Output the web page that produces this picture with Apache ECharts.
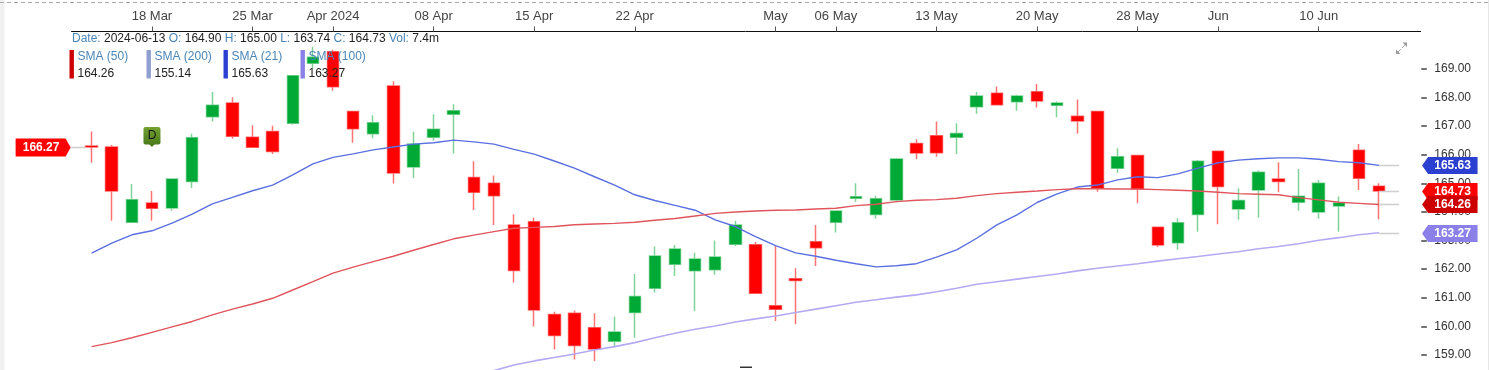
<!DOCTYPE html>
<html><head><meta charset="utf-8">
<style>html,body{margin:0;padding:0;background:#fff;overflow:hidden}#c{width:1489px;height:370px}</style>
<script src="https://cdn.jsdelivr.net/npm/echarts@6/dist/echarts.min.js"></script></head>
<body><div id="c"></div>
<script>
const dates = ['03-13','03-14','03-15','03-18','03-19','03-20','03-21','03-22','03-25','03-26','03-27','03-28',
'04-01','04-02','04-03','04-04','04-05','04-08','04-09','04-10','04-11','04-12','04-15','04-16','04-17','04-18','04-19',
'04-22','04-23','04-24','04-25','04-26','04-29','04-30','05-01','05-02','05-03','05-06','05-07','05-08','05-09','05-10',
'05-13','05-14','05-15','05-16','05-17','05-20','05-21','05-22','05-23','05-24','05-28','05-29','05-30','05-31',
'06-03','06-04','06-05','06-06','06-07','06-10','06-11','06-12','06-13'];
const tickLabels = {'03-18':'18 Mar','03-25':'25 Mar','04-01':'Apr 2024','04-08':'08 Apr','04-15':'15 Apr','04-22':'22 Apr','05-01':'May','05-06':'06 May','05-13':'13 May','05-20':'20 May','05-28':'28 May','06-03':'Jun','06-10':'10 Jun'};
const priceTicks = [159,160,161,162,163,164,165,166,167,168,169];
const opens = [166.31,166.27,163.64,164.31,164.14,165.06,167.33,167.81,166.61,166.81,
167.10,169.20,169.60,167.51,166.73,168.40,165.57,166.61,167.42,165.20,
165.00,163.54,163.66,160.41,160.46,159.95,159.48,160.48,161.33,162.17,
161.94,161.98,162.87,162.85,160.72,161.66,162.96,163.64,164.48,163.91,
164.42,166.39,166.66,166.61,167.68,168.15,167.85,168.20,167.73,167.35,
167.51,165.53,165.97,163.46,162.92,163.91,166.12,164.10,164.77,165.15,
164.34,164.00,164.21,166.16,164.90];
const closes = [166.27,164.73,164.43,164.13,165.15,166.59,167.73,166.65,166.26,166.11,
168.76,169.41,168.38,166.91,167.12,165.36,166.38,166.89,167.54,164.69,
164.57,161.95,160.57,159.68,159.33,159.21,159.80,161.04,162.46,162.70,
162.35,162.42,163.54,161.16,160.60,161.60,162.75,164.03,164.53,164.46,
165.85,166.06,166.07,166.74,168.05,167.75,168.05,167.88,167.81,167.18,
164.84,165.93,164.80,162.84,163.62,165.77,164.89,164.40,165.39,165.06,
164.55,165.00,164.31,165.18,164.73];
const lows = [165.72,163.69,163.62,163.69,164.04,164.84,167.16,166.56,166.26,166.03,
167.05,169.03,168.24,166.42,166.58,164.99,165.19,166.49,166.04,164.07,
163.54,161.53,159.99,159.19,158.84,158.79,159.29,159.60,161.18,161.76,
160.53,161.80,162.81,161.13,160.19,160.07,162.11,163.28,164.36,163.76,
164.34,165.84,165.93,166.03,167.43,167.74,167.54,167.65,167.31,166.73,
164.71,165.37,164.30,162.77,162.68,163.31,163.57,163.73,163.80,164.69,
164.04,163.76,163.31,164.77,163.74];
const highs = [166.81,166.34,164.98,164.73,165.18,166.73,168.19,168.01,167.03,167.01,
168.78,169.78,169.67,167.52,167.38,168.57,166.80,167.42,167.77,165.77,
165.27,163.92,163.80,160.51,160.55,160.46,160.34,161.83,162.79,162.84,
162.57,163.00,163.69,162.95,162.81,162.03,163.54,164.04,165.00,164.57,
165.89,166.54,167.16,167.10,168.19,168.39,168.10,168.47,167.87,167.93,
167.52,166.23,165.99,163.48,163.78,165.82,166.13,164.83,165.45,165.74,
165.50,165.12,164.54,166.38,165.00];
const sma21 = [162.56,162.91,163.20,163.34,163.61,163.92,164.28,164.51,164.74,164.94,
165.30,165.68,165.91,166.03,166.17,166.27,166.37,166.42,166.51,166.45,
166.37,166.19,166.02,165.78,165.53,165.23,164.94,164.60,164.40,164.23,
164.06,163.72,163.49,163.14,162.82,162.57,162.45,162.31,162.19,162.08,
162.12,162.19,162.42,162.67,163.08,163.55,163.90,164.33,164.63,164.87,
164.94,165.12,165.23,165.20,165.33,165.53,165.72,165.81,165.86,165.89,
165.89,165.84,165.76,165.72,165.63];
const sma50 = [159.29,159.43,159.60,159.79,159.98,160.17,160.40,160.60,160.78,160.98,
161.27,161.56,161.86,162.07,162.26,162.45,162.66,162.86,163.06,163.19,
163.31,163.43,163.46,163.49,163.55,163.58,163.60,163.64,163.71,163.77,
163.86,163.95,164.00,164.03,164.06,164.07,164.10,164.13,164.22,164.27,
164.36,164.41,164.43,164.48,164.57,164.64,164.69,164.73,164.78,164.81,
164.81,164.80,164.80,164.78,164.76,164.73,164.69,164.64,164.62,164.60,
164.50,164.42,164.34,164.30,164.26];
const sma100 = [null,null,null,null,null,null,null,null,null,null,
null,null,null,null,null,null,null,null,null,null,
158.45,158.65,158.79,158.91,159.03,159.17,159.29,159.43,159.60,159.76,
159.90,160.01,160.15,160.26,160.36,160.48,160.60,160.72,160.84,160.93,
161.02,161.10,161.21,161.33,161.47,161.56,161.65,161.74,161.83,161.94,
162.03,162.11,162.19,162.28,162.36,162.44,162.53,162.61,162.71,162.79,
162.89,163.01,163.10,163.20,163.27];
const legendNames = ['SMA (50)','SMA (200)','SMA (21)','SMA (100)'];
const legendValues = ['164.26','155.14','165.63','163.27'];
const legendColors = ['#cc0000','#8fa0d0','#2b40d0','#8a80e8'];
const tagValues = [165.63,164.73,164.26,163.27];
const tagColors = ['#2b40d0','#ff0000','#cc0000','#8a80e8'];
const firstClose = 166.27;

const pad = a => [null, ...a, null, null];
const cats = ['', ...dates, ' ', '  '];
const font = 'Liberation Sans, Arial, sans-serif';
const chart = echarts.init(document.getElementById('c'), null, {renderer:'canvas'});

const legendG = [];
legendNames.forEach((n,i)=>{
  const x = 69.5 + i*77;
  legendG.push({type:'rect',z:100,shape:{x:x,y:50,width:4.4,height:28.5},style:{fill:legendColors[i]}});
  legendG.push({type:'text',z:101,x:x+8,y:51,style:{text:n,fill:'#4a86b8',font:'12px '+font}});
  legendG.push({type:'text',z:101,x:x+8,y:68,style:{text:legendValues[i],fill:'#222',font:'12px '+font}});
});
const hdr = '{b|Date:} {k|2024-06-13} {b|O:} {k|164.90} {b|H:} {k|165.00} {b|L:} {k|163.74} {b|C:} {k|164.73} {b|Vol:} {k|7.4m}';

chart.setOption({
  animation:false,
  backgroundColor:'#fff',
  grid:{left:71.5,top:31.5,width:1347.8,height:352,outerBoundsMode:'none',containLabel:false},
  xAxis:{type:'category',position:'top',boundaryGap:false,data:cats,
    axisLine:{lineStyle:{color:'#111',width:1}},
    axisTick:{length:5,inside:false,lineStyle:{color:'#555',width:1},interval:(i,v)=>!!tickLabels[v],alignWithLabel:true},
    axisLabel:{fontFamily:font,fontSize:13,color:'#444',margin:9,interval:(i,v)=>!!tickLabels[v],formatter:v=>tickLabels[v]||'',hideOverlap:false},
    splitLine:{show:false}},
  yAxis:{type:'value',position:'right',offset:2,min:158,max:170.31,scale:true,
    axisLine:{show:false},
    axisTick:{show:true,length:5.5,lineStyle:{color:'#444',width:1.5},customValues:priceTicks},
    axisLabel:{fontFamily:font,fontSize:12,color:'#333',margin:13,customValues:priceTicks,formatter:v=>v.toFixed(2)},
    splitLine:{show:false}},
  series:[
    {type:'candlestick',name:'Price',barWidth:12,z:3,
     data:pad(dates.map((d,i)=>[opens[i],closes[i],lows[i],highs[i]])).map(v=>v||'-'),
     itemStyle:{color:'#00a935',color0:'#ff0000',borderColor:'rgba(0,169,53,0.5)',borderColor0:'rgba(255,0,0,0.55)',borderWidth:1.5}},
    {type:'line',name:'SMA (21)',data:pad(sma21),showSymbol:false,symbol:'none',z:4,lineStyle:{color:'#5a70e0',width:1.4}},
    {type:'line',name:'SMA (50)',data:pad(sma50),showSymbol:false,symbol:'none',z:4,lineStyle:{color:'#e0555c',width:1.4}},
    {type:'line',name:'SMA (100)',data:pad(sma100),showSymbol:false,symbol:'none',z:4,lineStyle:{color:'#b4aaf4',width:1.6}},
    {type:'custom',name:'Tags',z:20,silent:true,clip:false,coordinateSystem:'cartesian2d',
     data:tagValues.map(v=>[65,v]),
     encode:{x:0,y:1},
     renderItem:(p,api)=>{
       const c=api.coord([api.value(0),api.value(1)]),x=c[0],y=Math.round(c[1])+0.5,col=tagColors[p.dataIndex];
       return {type:'group',children:[
         {type:'line',shape:{x1:x,y1:y,x2:x+20,y2:y},style:{stroke:'#cfcfcf',lineWidth:1.6}},
         {type:'polygon',shape:{points:[[x+43,y],[x+49,y-8.5],[x+98.5,y-8.5],[x+98.5,y+8.5],[x+49,y+8.5]]},style:{fill:col}},
         {type:'text',style:{x:x+73.5,y:y,text:api.value(1).toFixed(2),fill:'#fff',font:'bold 12px '+font,align:'center',verticalAlign:'middle'}}
       ]};
     }},
    {type:'custom',name:'First',z:20,silent:true,clip:false,coordinateSystem:'cartesian2d',
     data:[[1,firstClose]],encode:{x:0,y:1},
     renderItem:(p,api)=>{
       const c=api.coord([api.value(0),api.value(1)]),x=c[0],y=Math.round(c[1])+0.5;
       return {type:'group',children:[
         {type:'line',shape:{x1:x-21,y1:y,x2:x-6,y2:y},style:{stroke:'#cfcfcf',lineWidth:1.6}},
         {type:'polygon',shape:{points:[[x-21,y],[x-26,y-9],[x-76,y-9],[x-76,y+9],[x-26,y+9]]},style:{fill:'#ff0000'}},
         {type:'text',style:{x:x-50.5,y:y,text:api.value(1).toFixed(2),fill:'#fff',font:'bold 12px '+font,align:'center',verticalAlign:'middle'}}
       ]};
     }},
    {type:'custom',name:'D',z:20,silent:true,clip:false,coordinateSystem:'cartesian2d',
     data:[[4,166.27]],encode:{x:0,y:1},
     renderItem:(p,api)=>{
       const c=api.coord([api.value(0),api.value(1)]),x=c[0],y=c[1];
       return {type:'group',children:[
         {type:'polygon',shape:{points:[[x-3,y-3],[x+3,y-3],[x,y]]},style:{fill:'#4e7a1c'}},
         {type:'rect',shape:{x:x-8.5,y:y-20,width:17,height:17.5,r:2},style:{fill:new echarts.graphic.LinearGradient(0,0,0,1,[{offset:0,color:'#74a332'},{offset:1,color:'#4a7a1a'}])}},
         {type:'text',style:{x:x,y:y-11,text:'D',fill:'#111',font:'12px '+font,align:'center',verticalAlign:'middle'}}
       ]};
     }}
  ],
  graphic:[
    {type:'rect',z:0,shape:{x:0,y:0,width:4.5,height:370},style:{fill:'#f0f0f0'}},
    {type:'rect',z:0,shape:{x:1488,y:0,width:1,height:370},style:{fill:'#e6e6e6'}},
    {type:'line',z:0,shape:{x1:0,y1:2.5,x2:1489,y2:2.5},style:{stroke:'#aaa',lineWidth:1,lineDash:[4,3]}},
    {type:'line',z:1,shape:{x1:1419,y1:31.5,x2:1421,y2:31.5},style:{stroke:'#111',lineWidth:1}},
    {type:'rect',z:1,shape:{x:740,y:366.5,width:12,height:1.5},style:{fill:'#333'}},
    {type:'text',z:101,x:72,y:33,style:{text:hdr,font:'12px '+font,rich:{b:{fill:'#4a86b8',font:'12px '+font},k:{fill:'#222',font:'12px '+font}}}},
    {type:'polyline',z:5,shape:{points:[[1397,53],[1401,49]]},style:{stroke:'#aaa',lineWidth:1,fill:'none'}},
    {type:'polyline',z:5,shape:{points:[[1402,48],[1406,44]]},style:{stroke:'#aaa',lineWidth:1,fill:'none'}},
    {type:'polygon',z:5,shape:{points:[[1407,42.5],[1402.5,42.5],[1407,47]]},style:{fill:'#999'}},
    {type:'polygon',z:5,shape:{points:[[1396,54],[1396,49.5],[1400.5,54]]},style:{fill:'#999'}},
    ...legendG
  ]
});
</script></body></html>
